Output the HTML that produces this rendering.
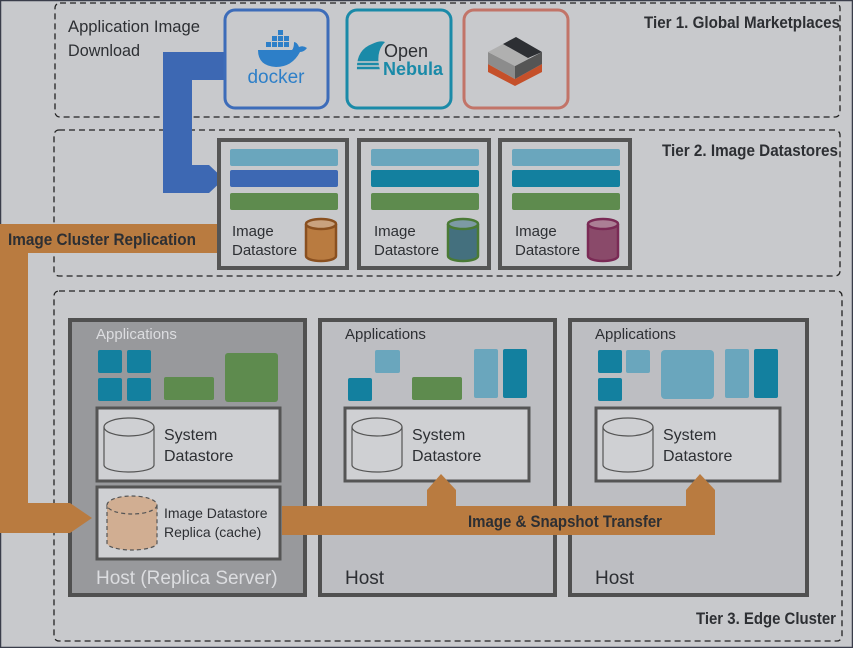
<!DOCTYPE html>
<html><head><meta charset="utf-8"><style>
html,body{margin:0;padding:0;background:#c8c9cc}
svg{display:block}
text{font-family:"Liberation Sans",sans-serif;fill:#2d2f33}
</style></head><body>
<svg width="853" height="648" viewBox="0 0 853 648" xmlns="http://www.w3.org/2000/svg">
<rect x="0" y="0" width="853" height="648" fill="#c8c9cc"/>
<rect x="0.5" y="0.5" width="852" height="647" fill="none" stroke="#3a3d4a" stroke-width="1.5"/>
<g fill="none" stroke="#222" stroke-width="1.3" stroke-dasharray="6,4">
<rect x="55" y="3" width="785" height="114" rx="5"/>
<rect x="54" y="130" width="786" height="146" rx="5"/>
<rect x="54" y="291" width="788" height="350" rx="5"/>
</g>
<g font-size="17" font-weight="bold" text-anchor="end">
<text x="840" y="28" textLength="196" lengthAdjust="spacingAndGlyphs">Tier 1. Global Marketplaces</text>
<text x="838" y="156" textLength="176" lengthAdjust="spacingAndGlyphs">Tier 2. Image Datastores</text>
<text x="836" y="624" textLength="140" lengthAdjust="spacingAndGlyphs">Tier 3. Edge Cluster</text>
</g>
<text x="68" y="32" font-size="17" textLength="132" lengthAdjust="spacingAndGlyphs">Application Image</text>
<text x="68" y="56" font-size="17" textLength="72" lengthAdjust="spacingAndGlyphs">Download</text>

<!-- blue arrow -->
<polygon points="224,52 224,80 192,80 192,165 209,165 224,179 209,193 163,193 163,52" fill="#3d68b3"/>

<!-- marketplace boxes -->
<rect x="225" y="10" width="103" height="98" rx="10" fill="#c8c9cc" stroke="#3d6cb9" stroke-width="3"/>
<rect x="347" y="10" width="104" height="98" rx="10" fill="#c8c9cc" stroke="#1a8aa8" stroke-width="3"/>
<rect x="464" y="10" width="104" height="98" rx="10" fill="#c8c9cc" stroke="#c27468" stroke-width="3"/>
<!-- docker -->
<g fill="#2d7fc8">
<path d="M258,50 Q258,66 276,67 Q292,67 300,52 Q304,52 307,48 Q303,45 299,47 Q297,42 294,42 Q294,48 292,50 Z"/>
<rect x="266" y="42" width="5" height="5"/><rect x="272" y="42" width="5" height="5"/><rect x="278" y="42" width="5" height="5"/><rect x="284" y="42" width="5" height="5"/>
<rect x="272" y="36" width="5" height="5"/><rect x="278" y="36" width="5" height="5"/><rect x="284" y="36" width="5" height="5"/><rect x="278" y="30" width="5" height="5"/>
</g>
<text x="276" y="83" font-size="19" text-anchor="middle" style="fill:#2d7fc8">docker</text>
<!-- opennebula -->
<path d="M357,70 Q356,50 372,44 Q380,40 385,42 Q375,52 380,70 Z" fill="#1a8aa8"/>
<path d="M356,62 L380,62 M356,66 L380,66 M357,70 L381,70" stroke="#c8c9cc" stroke-width="1.5"/>
<text x="384" y="57" font-size="18" style="fill:#2d2f33">Open</text>
<text x="383" y="75" font-size="18" font-weight="bold" style="fill:#1a8aa8">Nebula</text>
<!-- lxd cube -->
<polygon points="488,64 515,79 542,64 542,72 515,86 488,72" fill="#c5502a"/>
<polygon points="488,52 515,66 515,79 488,64" fill="#8c8c8c"/>
<polygon points="515,66 542,52 542,64 515,79" fill="#555"/>
<polygon points="488,52 503,44 530,58 515,66" fill="#b0b0b0"/>
<polygon points="503,44 516,37 542,52 528,58" fill="#2d2f33"/>

<!-- orange replication (upper part) -->
<polygon points="0,224 218,224 218,253 28,253 28,503 0,503" fill="#b97b40"/>
<text x="8" y="245" font-size="17" font-weight="bold" textLength="188" lengthAdjust="spacingAndGlyphs">Image Cluster Replication</text>

<!-- datastores -->
<g stroke="#555" stroke-width="4" fill="#c8c9cc">
<rect x="219" y="140" width="128" height="128"/>
<rect x="359" y="140" width="130" height="128"/>
<rect x="500" y="140" width="130" height="128"/>
</g>
<g>
<rect x="230" y="149" width="108" height="17" rx="2" fill="#6aa6bd"/>
<rect x="230" y="170" width="108" height="17" rx="2" fill="#3d68b3"/>
<rect x="230" y="193" width="108" height="17" rx="2" fill="#5e8b4e"/>
<rect x="371" y="149" width="108" height="17" rx="2" fill="#6aa6bd"/>
<rect x="371" y="170" width="108" height="17" rx="2" fill="#13809f"/>
<rect x="371" y="193" width="108" height="17" rx="2" fill="#5e8b4e"/>
<rect x="512" y="149" width="108" height="17" rx="2" fill="#6aa6bd"/>
<rect x="512" y="170" width="108" height="17" rx="2" fill="#13809f"/>
<rect x="512" y="193" width="108" height="17" rx="2" fill="#5e8b4e"/>
</g>
<g font-size="15">
<text x="232" y="236">Image</text><text x="232" y="255">Datastore</text>
<text x="374" y="236">Image</text><text x="374" y="255">Datastore</text>
<text x="515" y="236">Image</text><text x="515" y="255">Datastore</text>
</g>
<g stroke-width="2.5">
<path d="M306,224 L306,256 A15,5 0 0 0 336,256 L336,224" fill="#b97b40" stroke="#8a5020"/>
<ellipse cx="321" cy="224" rx="15" ry="5" fill="#c9a27f" stroke="#8a5020"/>
<path d="M448,224 L448,256 A15,5 0 0 0 478,256 L478,224" fill="#44707e" stroke="#4a7a35"/>
<ellipse cx="463" cy="224" rx="15" ry="5" fill="#7d9aa4" stroke="#4a7a35"/>
<path d="M588,224 L588,256 A15,5 0 0 0 618,256 L618,224" fill="#8a4a6a" stroke="#7a2a55"/>
<ellipse cx="603" cy="224" rx="15" ry="5" fill="#ab7f95" stroke="#7a2a55"/>
</g>

<!-- hosts -->
<rect x="70" y="320" width="235" height="275" fill="#98999c" stroke="#505050" stroke-width="4"/>
<rect x="320" y="320" width="235" height="275" fill="#bdbec2" stroke="#505050" stroke-width="4"/>
<rect x="570" y="320" width="237" height="275" fill="#bdbec2" stroke="#505050" stroke-width="4"/>
<!-- orange replication lower arrow over host -->
<polygon points="0,503 70,503 92,518 70,533 0,533" fill="#b97b40"/>
<g font-size="15">
<text x="96" y="339" style="fill:#dcdde0">Applications</text>
<text x="345" y="339">Applications</text>
<text x="595" y="339">Applications</text>
</g>
<g font-size="19">
<text x="96" y="584" style="fill:#dcdde0">Host (Replica Server)</text>
<text x="345" y="584">Host</text>
<text x="595" y="584">Host</text>
</g>
<!-- tiles -->
<g fill="#13809f">
<rect x="98" y="350" width="24" height="23" rx="2"/><rect x="127" y="350" width="24" height="23" rx="2"/>
<rect x="98" y="378" width="24" height="23" rx="2"/><rect x="127" y="378" width="24" height="23" rx="2"/>
<rect x="348" y="378" width="24" height="23" rx="2"/><rect x="503" y="349" width="24" height="49" rx="2"/>
<rect x="598" y="350" width="24" height="23" rx="2"/><rect x="598" y="378" width="24" height="23" rx="2"/>
<rect x="754" y="349" width="24" height="49" rx="2"/>
</g>
<g fill="#6aa6bd">
<rect x="375" y="350" width="25" height="23" rx="2"/><rect x="474" y="349" width="24" height="49" rx="2"/>
<rect x="626" y="350" width="24" height="23" rx="2"/><rect x="661" y="350" width="53" height="49" rx="4"/>
<rect x="725" y="349" width="24" height="49" rx="2"/>
</g>
<g fill="#5e8b4e">
<rect x="164" y="377" width="50" height="23" rx="2"/><rect x="225" y="353" width="53" height="49" rx="3"/>
<rect x="412" y="377" width="50" height="23" rx="2"/>
</g>
<!-- system datastores -->
<g fill="#cfd0d3" stroke="#555" stroke-width="3">
<rect x="97" y="408" width="183" height="73"/>
<rect x="345" y="408" width="184" height="73"/>
<rect x="596" y="408" width="184" height="73"/>
<rect x="97" y="487" width="183" height="72"/>
</g>
<g fill="#cfd0d3" stroke="#555" stroke-width="1.2">
<path d="M104,427 L104,465 A25,7 0 0 0 154,465 L154,427"/><ellipse cx="129" cy="427" rx="25" ry="9"/>
<path d="M352,427 L352,465 A25,7 0 0 0 402,465 L402,427"/><ellipse cx="377" cy="427" rx="25" ry="9"/>
<path d="M603,427 L603,465 A25,7 0 0 0 653,465 L653,427"/><ellipse cx="628" cy="427" rx="25" ry="9"/>
</g>
<g fill="#d1ae92" stroke="#555" stroke-width="1.2" stroke-dasharray="4,3">
<path d="M107,505 L107,543 A25,7 0 0 0 157,543 L157,505"/><ellipse cx="132" cy="505" rx="25" ry="9"/>
</g>
<g font-size="16">
<text x="164" y="440">System</text><text x="164" y="461">Datastore</text>
<text x="412" y="440">System</text><text x="412" y="461">Datastore</text>
<text x="663" y="440">System</text><text x="663" y="461">Datastore</text>
</g>
<g font-size="14">
<text x="164" y="518">Image Datastore</text><text x="164" y="537">Replica (cache)</text>
</g>

<!-- transfer arrow -->
<polygon points="282,506 427,506 427,490 441,474 456,490 456,506 686,506 686,490 700,474 715,490 715,535 282,535" fill="#b97b40"/>
<text x="565" y="527" font-size="17" font-weight="bold" text-anchor="middle" textLength="194" lengthAdjust="spacingAndGlyphs">Image &amp; Snapshot Transfer</text>
</svg>
</body></html>
